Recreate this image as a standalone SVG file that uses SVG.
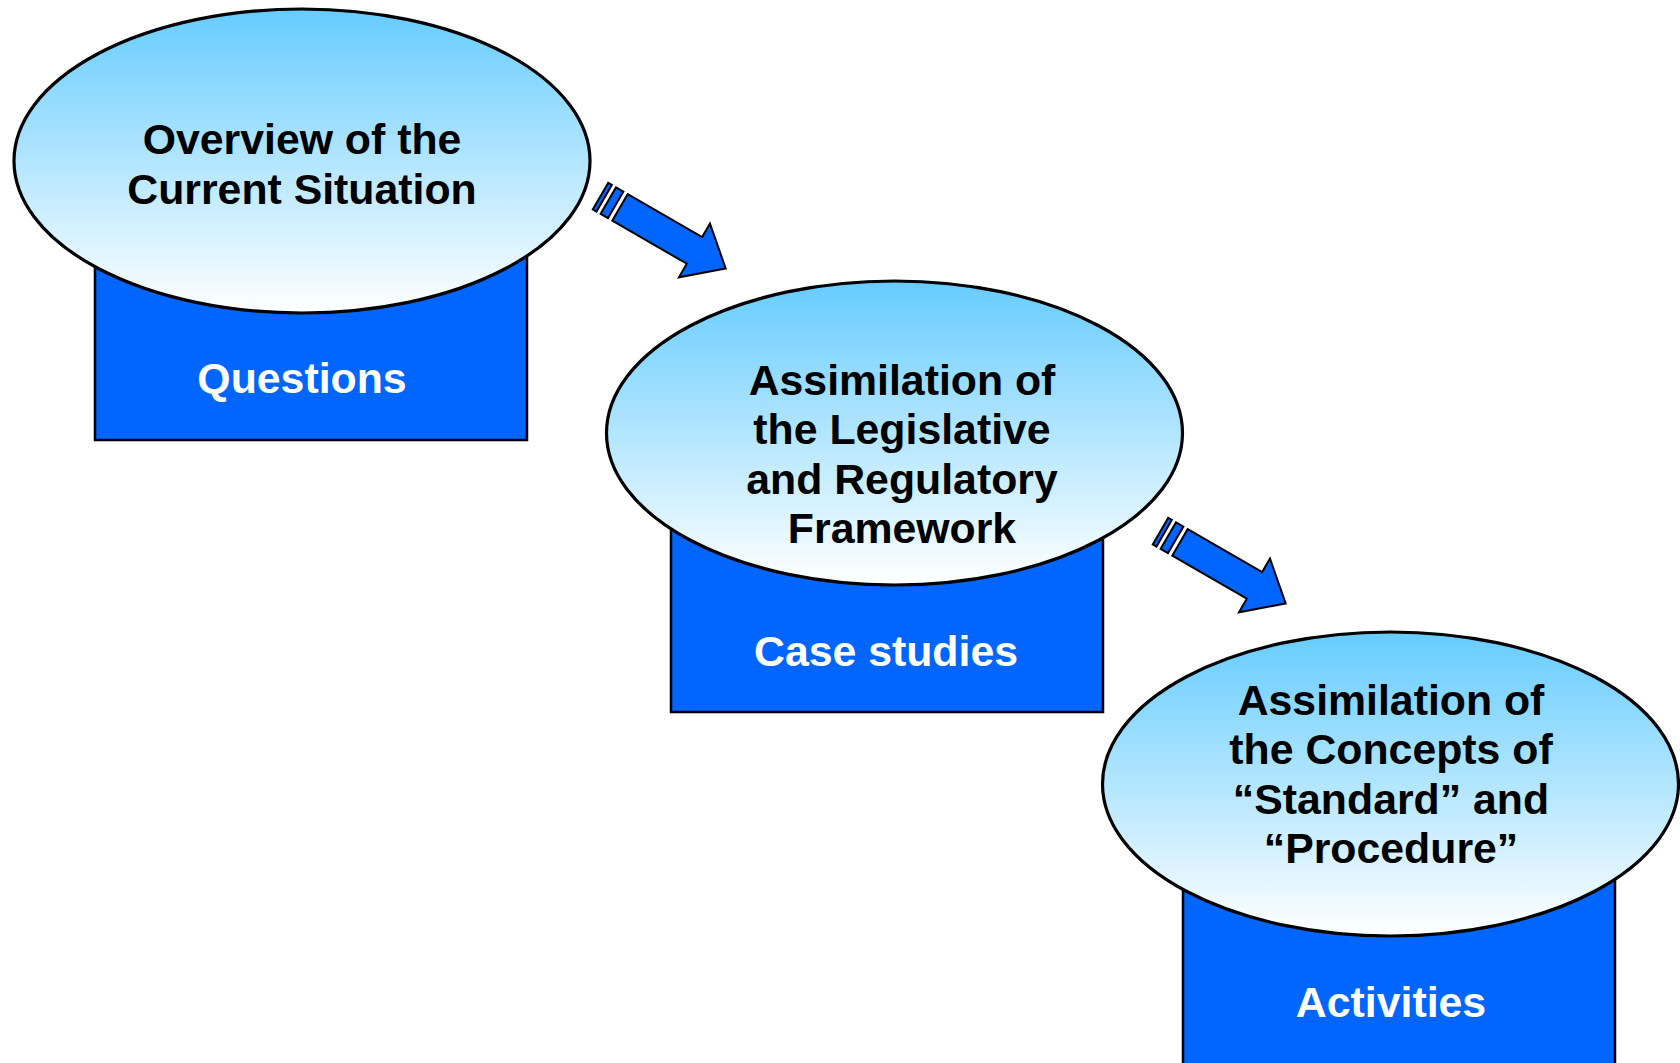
<svg xmlns="http://www.w3.org/2000/svg" width="1680" height="1063" viewBox="0 0 1680 1063">
<defs>
<linearGradient id="eg" x1="0" y1="0" x2="0" y2="1">
<stop offset="0" stop-color="#66CCFF"/>
<stop offset="1" stop-color="#FFFFFF"/>
</linearGradient>
<g id="arrow">
<rect x="-22.5" y="-15.4" width="4.2" height="30.8"/>
<rect x="-13.5" y="-15.4" width="8.5" height="30.8"/>
<path d="M0,-15.4 L86,-15.4 L86,-31 L122,0 L86,31 L86,15.4 L0,15.4 Z"/>
</g>
</defs>
<style>
.box{fill:#0066FF;stroke:#000;stroke-width:2.5}
.ell{fill:url(#eg);stroke:#000;stroke-width:3.2}
.t{font-family:"Liberation Sans",Arial,sans-serif;font-weight:bold;font-size:42.8px;text-anchor:middle;fill:#000}
.w{font-family:"Liberation Sans",Arial,sans-serif;font-weight:bold;font-size:42.8px;text-anchor:middle;fill:#fff}
.arr{fill:#0066FF;stroke:#000;stroke-width:2;stroke-linejoin:miter}
</style>
<rect width="1680" height="1063" fill="#fff"/>
<g id="node1">
<rect class="box" x="95" y="230" width="432" height="210"/>
<text class="w" x="302" y="393">Questions</text>
<ellipse class="ell" cx="302" cy="161" rx="288" ry="152"/>
<text class="t" x="302" y="154">Overview of the</text>
<text class="t" x="302" y="204">Current Situation</text>
</g>
<g id="node2">
<rect class="box" x="671" y="490" width="432" height="222"/>
<text class="w" x="886" y="666">Case studies</text>
<ellipse class="ell" cx="894.5" cy="433" rx="288" ry="152"/>
<text class="t" x="902" y="394.5">Assimilation of</text>
<text class="t" x="902" y="444">the Legislative</text>
<text class="t" x="902" y="493.5">and Regulatory</text>
<text class="t" x="902" y="543">Framework</text>
</g>
<g id="node3">
<rect class="box" x="1183" y="820" width="432" height="260"/>
<text class="w" x="1391" y="1017">Activities</text>
<ellipse class="ell" cx="1390.5" cy="784" rx="288" ry="152"/>
<text class="t" x="1391" y="714.5">Assimilation of</text>
<text class="t" x="1391" y="764">the Concepts of</text>
<text class="t" x="1391" y="813.5">“Standard” and</text>
<text class="t" x="1391" y="863">“Procedure”</text>
</g>
<g id="connectors" class="arr">
<use href="#arrow" transform="translate(620,207.4) rotate(30)"/>
<use href="#arrow" transform="translate(1180,542.4) rotate(30)"/>
</g>
</svg>
